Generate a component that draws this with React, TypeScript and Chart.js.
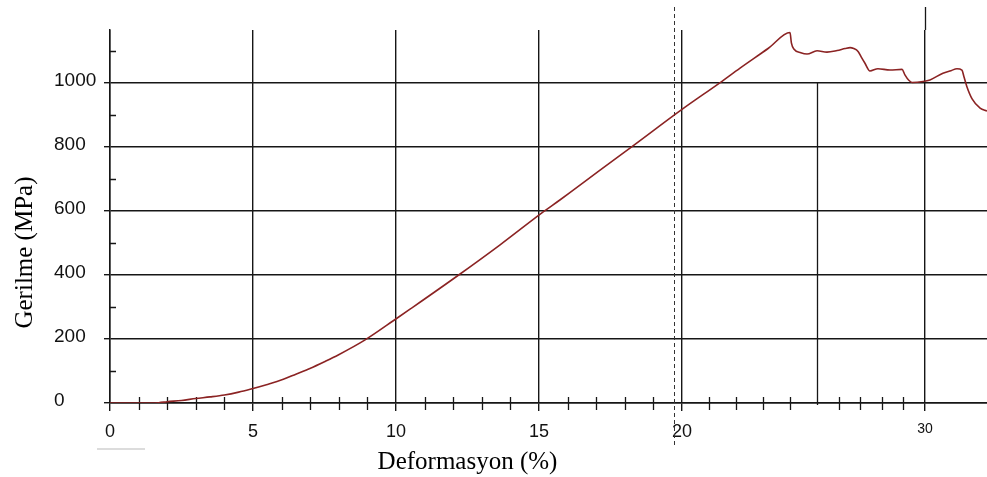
import React, { useEffect, useRef } from 'react';
import { Chart, registerables, LinearScale } from 'chart.js';

Chart.register(...registerables);

// ---- data ----
const STRAIN = [
  0, 1, 1.7, 2, 2.5, 3, 3.5, 4, 4.5, 4.9, 5.5, 6.06, 6.5, 6.99, 7.5, 7.98, 8.92, 10.02,
  10.49, 12.18, 13.64, 15.09, 15.73, 16.08, 17.1, 18.24, 20, 21.4, 22.15, 23.2,
  24.0, 24.05, 24.15, 24.4, 24.63, 25.0, 25.46, 25.93, 26.3, 26.53, 26.7, 26.9, 27.05,
  27.22, 27.45, 27.82, 28.38, 28.94, 29.07, 29.25, 29.4, 29.91, 30.23, 30.83, 31.2,
  31.48, 31.71, 31.8, 31.94, 32.18, 32.55, 32.87,
];
const STRESS = [
  0, 0, 1, 4, 8, 14, 19, 25, 34, 43, 58, 74, 90, 108, 129, 150, 197, 264,
  293, 399, 494, 593, 634, 657, 725, 800, 917, 1000, 1046, 1108,
  1157, 1125, 1105, 1094, 1090, 1100, 1096, 1101, 1107, 1110, 1107, 1098, 1080,
  1061, 1037, 1044, 1040, 1042, 1025, 1008, 1001, 1004, 1009, 1030, 1038,
  1044, 1040, 1020, 988, 950, 921, 912,
];

const X_MIN = 0;
const X_MAX = 32.87;
const X_TICKS = [0, 5, 10, 15, 20, 25, 30];
const X_HIDDEN_LABELS = [25];
const X_MINOR_TICKS = [1, 2, 3, 4, 6, 7, 8, 9, 11, 12, 13, 14, 16, 17, 18, 19, 21, 22, 23, 24, 26, 27, 28, 29];
const Y_MIN = 0;
const Y_MAX = 1165;
const Y_TICKS = [0, 200, 400, 600, 800, 1000];
const Y_MINOR_TICKS = [100, 300, 500, 700, 900, 1100];
const REF_LINE_X = 19.72;

const X_TITLE = 'Deformasyon (%)';
const Y_TITLE = 'Gerilme (MPa)';

// The reference axis is not uniform (stitched image): piecewise mapping value -> fraction of axis width
const X_BREAK_VALUES = [0, 20, 25, 30, 32.87];
const X_BREAK_FRACTIONS = [0, 0.6522, 0.8062, 0.9293, 1];

const GRID_COLOR = '#161616';
const LINE_COLOR = '#8b2323';

function toFraction(v: number): number {
  const B = X_BREAK_VALUES, F = X_BREAK_FRACTIONS;
  let i = 0;
  while (i < B.length - 2 && v > B[i + 1]) i++;
  return F[i] + ((v - B[i]) / (B[i + 1] - B[i])) * (F[i + 1] - F[i]);
}
function fromFraction(f: number): number {
  const B = X_BREAK_VALUES, F = X_BREAK_FRACTIONS;
  let i = 0;
  while (i < F.length - 2 && f > F[i + 1]) i++;
  return B[i] + ((f - F[i]) / (F[i + 1] - F[i])) * (B[i + 1] - B[i]);
}

class PiecewiseScale extends LinearScale {
  static id = 'piecewise';
  static defaults = LinearScale.defaults;
  getPixelForValue(value: any) {
    if (value === null || value === undefined || Number.isNaN(value)) return NaN;
    return (this as any).getPixelForDecimal(toFraction(value));
  }
  getValueForPixel(pixel: number) {
    return fromFraction((this as any).getDecimalForPixel(pixel));
  }
}
Chart.register(PiecewiseScale as any);

const decorPlugin = {
  id: 'decor',
  beforeDatasetsDraw(chart: any) {
    const { ctx, chartArea, scales } = chart;
    const x = scales.x, y = scales.y;
    ctx.save();
    ctx.strokeStyle = GRID_COLOR;
    ctx.lineWidth = 1.3;
    ctx.beginPath();
    for (const v of X_MINOR_TICKS) {
      const px = Math.round(x.getPixelForValue(v)) + 0.5;
      ctx.moveTo(px, chartArea.bottom - 6);
      ctx.lineTo(px, chartArea.bottom + 7);
    }
    for (const v of Y_MINOR_TICKS) {
      const py = Math.round(y.getPixelForValue(v)) + 0.5;
      ctx.moveTo(chartArea.left, py);
      ctx.lineTo(chartArea.left + 6, py);
    }
    // gridline at 25 starts at the 1000 level in the reference
    const p25 = Math.round(x.getPixelForValue(25)) + 0.5;
    ctx.moveTo(p25, y.getPixelForValue(1000));
    ctx.lineTo(p25, chartArea.bottom + 2);
    // gridline at 30 reaches above the plot area
    const p30 = Math.round(x.getPixelForValue(30)) + 0.5;
    ctx.moveTo(p30, 7);
    ctx.lineTo(p30, chartArea.top);
    ctx.stroke();

    // dashed reference line
    const pr = Math.round(x.getPixelForValue(REF_LINE_X)) + 0.5;
    ctx.lineWidth = 1;
    ctx.strokeStyle = '#333';
    ctx.setLineDash([4, 3]);
    ctx.beginPath();
    ctx.moveTo(pr, 7);
    ctx.lineTo(pr, chartArea.bottom + 44);
    ctx.stroke();
    ctx.setLineDash([]);

    // faint gray stroke below the axis
    ctx.strokeStyle = '#d0d0d0';
    ctx.lineWidth = 1.5;
    ctx.beginPath();
    ctx.moveTo(chartArea.left - 13, chartArea.bottom + 46);
    ctx.lineTo(chartArea.left + 35, chartArea.bottom + 46);
    ctx.stroke();
    ctx.restore();
  },
  afterDraw(chart: any) {
    const { ctx, scales } = chart;
    const x = scales.x, y = scales.y;
    ctx.save();
    ctx.fillStyle = '#000';
    ctx.font = '25px "Liberation Serif", "Times New Roman", serif';
    ctx.textAlign = 'center';
    ctx.textBaseline = 'middle';
    ctx.fillText(X_TITLE, x.getPixelForValue(12.5), 462);
    ctx.translate(25, y.getPixelForValue(470));
    ctx.rotate(-Math.PI / 2);
    ctx.fillText(Y_TITLE, 0, 0);
    ctx.restore();
  },
};

export default function App() {
  const ref = useRef<HTMLCanvasElement | null>(null);
  useEffect(() => {
    if (!ref.current) return;
    const points = STRAIN.map((s, i) => ({ x: s, y: STRESS[i] }));
    const chart = new Chart(ref.current, {
      type: 'line',
      data: {
        datasets: [
          {
            data: points,
            borderColor: LINE_COLOR,
            borderWidth: 1.6,
            pointRadius: 0,
            cubicInterpolationMode: 'monotone',
            fill: false,
          },
        ],
      },
      options: {
        animation: false,
        responsive: false,
        layout: { padding: { left: 54, top: 30, right: 0, bottom: 0 } },
        plugins: { legend: { display: false }, tooltip: { enabled: false } },
        scales: {
          x: {
            type: 'piecewise' as any,
            min: X_MIN,
            max: X_MAX,
            afterFit: (s: any) => { s.height = 74; },
            afterBuildTicks: (s: any) => { s.ticks = X_TICKS.map((v) => ({ value: v })); },
            border: { display: true, color: GRID_COLOR, width: 1.5 },
            grid: {
              color: (c: any) => (c.tick && c.tick.value === 25 ? 'rgba(0,0,0,0)' : GRID_COLOR),
              lineWidth: 1.4,
              tickLength: 8,
            },
            ticks: {
              autoSkip: false,
              maxRotation: 0,
              padding: 10,
              color: '#111',
              font: (c: any) =>
                c.tick && c.tick.value === 30
                  ? { family: '"Liberation Sans", Arial, sans-serif', size: 14 }
                  : { family: '"Liberation Sans Narrow", "Liberation Sans", Arial, sans-serif', size: 18 },
              callback: (v: any) => (X_HIDDEN_LABELS.includes(Number(v)) ? '' : String(v)),
            },
          } as any,
          y: {
            type: 'linear',
            min: Y_MIN,
            max: Y_MAX,
            afterFit: (s: any) => { s.width = 56; },
            afterBuildTicks: (s: any) => { s.ticks = Y_TICKS.map((v) => ({ value: v })); },
            border: { display: true, color: GRID_COLOR, width: 1.5 },
            grid: { color: GRID_COLOR, lineWidth: 1.4, tickLength: 6 },
            ticks: {
              crossAlign: 'far',
              labelOffset: -2,
              color: '#111',
              font: { family: '"Liberation Sans", Arial, sans-serif', size: 19 },
              callback: (v: any) => String(v),
            },
          },
        },
      },
      plugins: [decorPlugin],
    });
    return () => chart.destroy();
  }, []);
  return (
    <div style={{ position: 'absolute', left: 0, top: 0, width: 987, height: 477, background: '#fff' }}>
      <canvas ref={ref} width={987} height={477} style={{ display: 'block' }} />
    </div>
  );
}
